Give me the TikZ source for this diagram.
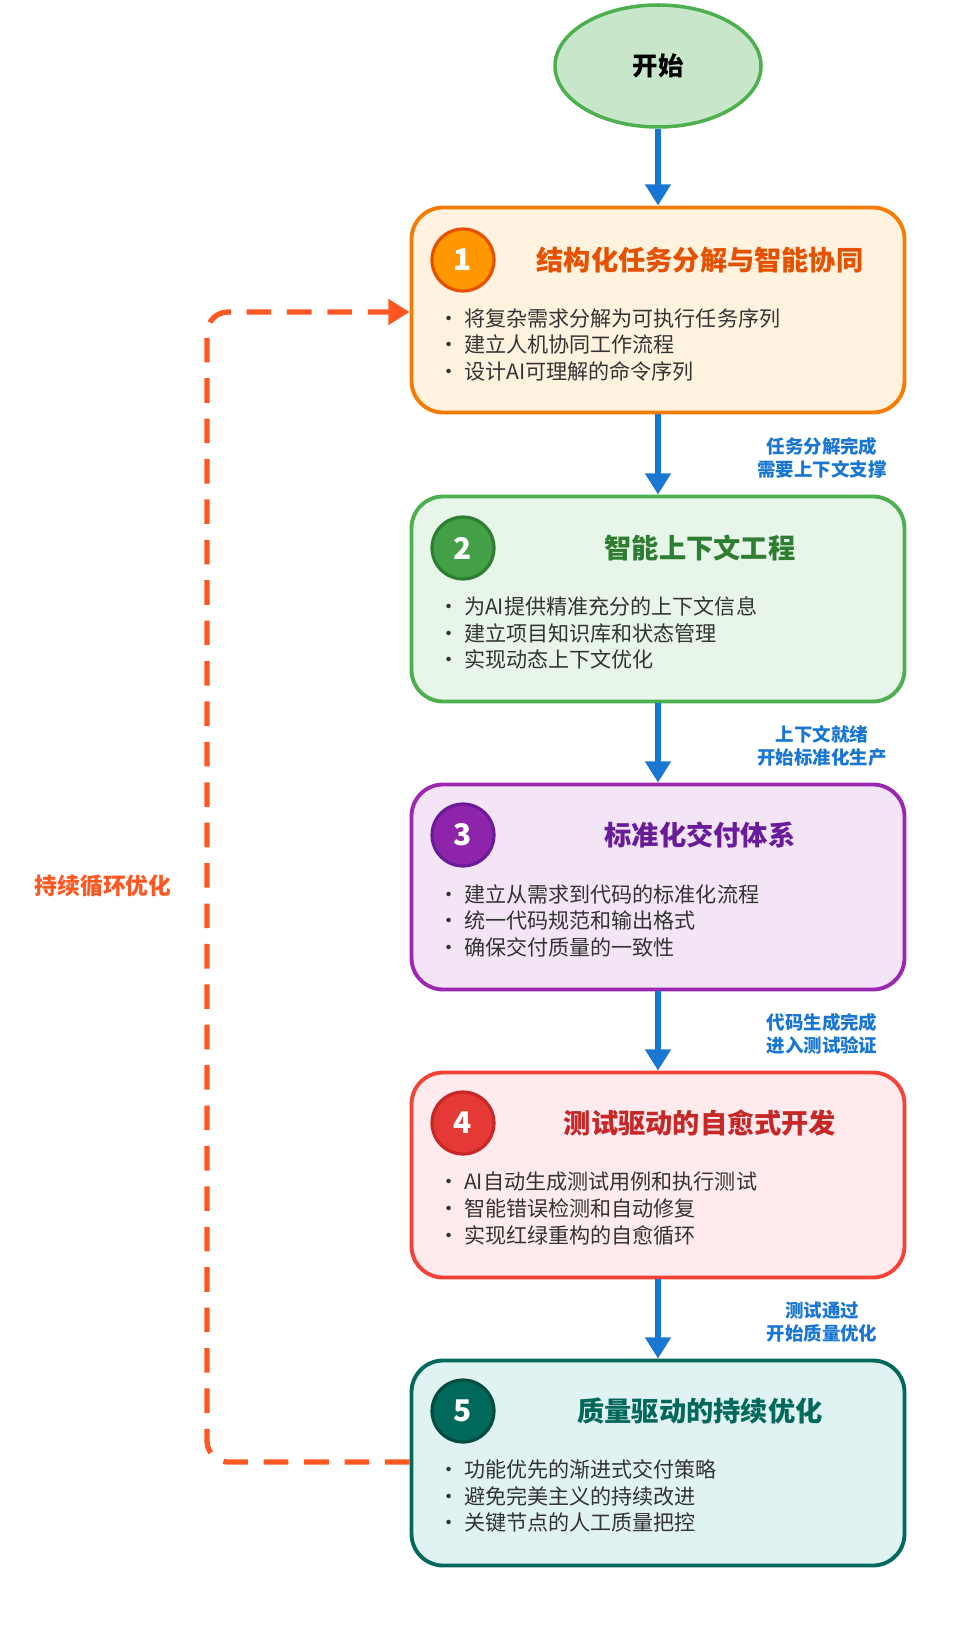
\documentclass[tikz,border=0pt]{standalone}
\usepackage{fontspec}
\setmainfont{Noto Sans CJK SC}
\usetikzlibrary{arrows.meta,shapes.geometric}
\definecolor{flow}{HTML}{1976D2}
\definecolor{loop}{HTML}{FF5722}
\definecolor{boxtext}{HTML}{333333}
\definecolor{startline}{HTML}{4CAF50}
\definecolor{startfill}{HTML}{C8E6C9}
% stage colours: border, fill, circle, circle border / title
\definecolor{oneline}{HTML}{F57C00}\definecolor{onefill}{HTML}{FFF3E0}\definecolor{onedot}{HTML}{FF9800}\definecolor{onedark}{HTML}{E65100}
\definecolor{twoline}{HTML}{4CAF50}\definecolor{twofill}{HTML}{E8F5E9}\definecolor{twodot}{HTML}{43A047}\definecolor{twodark}{HTML}{2E7D32}
\definecolor{threeline}{HTML}{9C27B0}\definecolor{threefill}{HTML}{F3E5F5}\definecolor{threedot}{HTML}{8E24AA}\definecolor{threedark}{HTML}{6A1B9A}
\definecolor{fourline}{HTML}{F44336}\definecolor{fourfill}{HTML}{FFEBEE}\definecolor{fourdot}{HTML}{E53935}\definecolor{fourdark}{HTML}{C62828}
\definecolor{fiveline}{HTML}{00695C}\definecolor{fivefill}{HTML}{E0F2F1}\definecolor{fivedot}{HTML}{00695C}\definecolor{fivedark}{HTML}{004D40}
\tikzset{
  stagebox/.style={draw=#1line, fill=#1fill, line width=2.2pt, rounded corners=18pt, minimum width=493*0.02cm, minimum height=205*0.02cm},
  stagenum/.style={circle, draw=#1dark, fill=#1dot, line width=1.8pt, minimum size=62*0.02cm, text=white, font=\fontsize{17}{17}\bfseries\selectfont},
  stagetitle/.style={text=#1, font=\fontsize{15.5}{16}\bfseries\selectfont},
  bullets/.style={anchor=north west, text=boxtext, align=left, font=\fontsize{12}{15.3}\selectfont},
  flowarrow/.style={draw=flow, line width=3pt, -{Triangle[length=12pt,width=14pt]}},
  flowlabel/.style={text=flow, align=center, font=\fontsize{10.5}{13.5}\bfseries\selectfont},
}
\begin{document}
\begin{tikzpicture}[x=0.02cm, y=-0.02cm]
\useasboundingbox (0,0) rectangle (960,1628);

\node[ellipse, draw=startline, line width=2pt, fill=startfill, minimum width=206*0.02cm, minimum height=122*0.02cm, font=\fontsize{14.5}{15}\bfseries\selectfont] (start) at (658,66) {开始};

% stage 1
\node[stagebox=one] (s1) at (658,310) {};
\node[stagenum=one] (n1) at (463,260) {1};
\node[stagetitle=onedark] (t1) at (700,260) {结构化任务分解与智能协同};
\node[bullets] (b1) at (432,302) {• 将复杂需求分解为可执行任务序列\\• 建立人机协同工作流程\\• 设计AI可理解的命令序列};

% stage 2
\node[stagebox=two] (s2) at (658,599) {};
\node[stagenum=two] (n2) at (463,548) {2};
\node[stagetitle=twodark] (t2) at (700,548) {智能上下文工程};
\node[bullets] (b2) at (432,590) {• 为AI提供精准充分的上下文信息\\• 建立项目知识库和状态管理\\• 实现动态上下文优化};

% stage 3
\node[stagebox=three] (s3) at (658,887) {};
\node[stagenum=three] (n3) at (463,835) {3};
\node[stagetitle=threedark] (t3) at (700,835) {标准化交付体系};
\node[bullets] (b3) at (432,878) {• 建立从需求到代码的标准化流程\\• 统一代码规范和输出格式\\• 确保交付质量的一致性};

% stage 4
\node[stagebox=four] (s4) at (658,1175) {};
\node[stagenum=four] (n4) at (463,1123) {4};
\node[stagetitle=fourdark] (t4) at (700,1123) {测试驱动的自愈式开发};
\node[bullets] (b4) at (432,1166) {• AI自动生成测试用例和执行测试\\• 智能错误检测和自动修复\\• 实现红绿重构的自愈循环};

% stage 5
\node[stagebox=five] (s5) at (658,1463) {};
\node[stagenum=five] (n5) at (463,1411) {5};
\node[stagetitle=fiveline] (t5) at (700,1411) {质量驱动的持续优化};
\node[bullets] (b5) at (432,1453) {• 功能优先的渐进式交付策略\\• 避免完美主义的持续改进\\• 关键节点的人工质量把控};

% flow
\draw[flowarrow] (start) -- (s1);
\draw[flowarrow] (s1) -- (s2);
\draw[flowarrow] (s2) -- (s3);
\draw[flowarrow] (s3) -- (s4);
\draw[flowarrow] (s4) -- (s5);
\node[flowlabel] (l12) at (822,458) {任务分解完成\\需要上下文支撑};
\node[flowlabel] (l23) at (822,746) {上下文就绪\\开始标准化生产};
\node[flowlabel] (l34) at (822,1034) {代码生成完成\\进入测试验证};
\node[flowlabel] (l45) at (822,1322) {测试通过\\开始质量优化};

% loop back
\coordinate (c5) at (s5.west |- 0,1462);
\coordinate (c1) at (s1.west |- 0,312);
\draw[draw=loop, line width=3pt, dash pattern=on 14pt off 9pt, rounded corners=12pt, -{Triangle[length=12pt,width=14pt,fill=loop]}]
  (c5) -- (207,1462) -- (207,312) -- (c1);
\node[text=loop, font=\fontsize{13}{14}\bfseries\selectfont] (lloop) at (103,886) {持续循环优化};
\end{tikzpicture}
\end{document}
